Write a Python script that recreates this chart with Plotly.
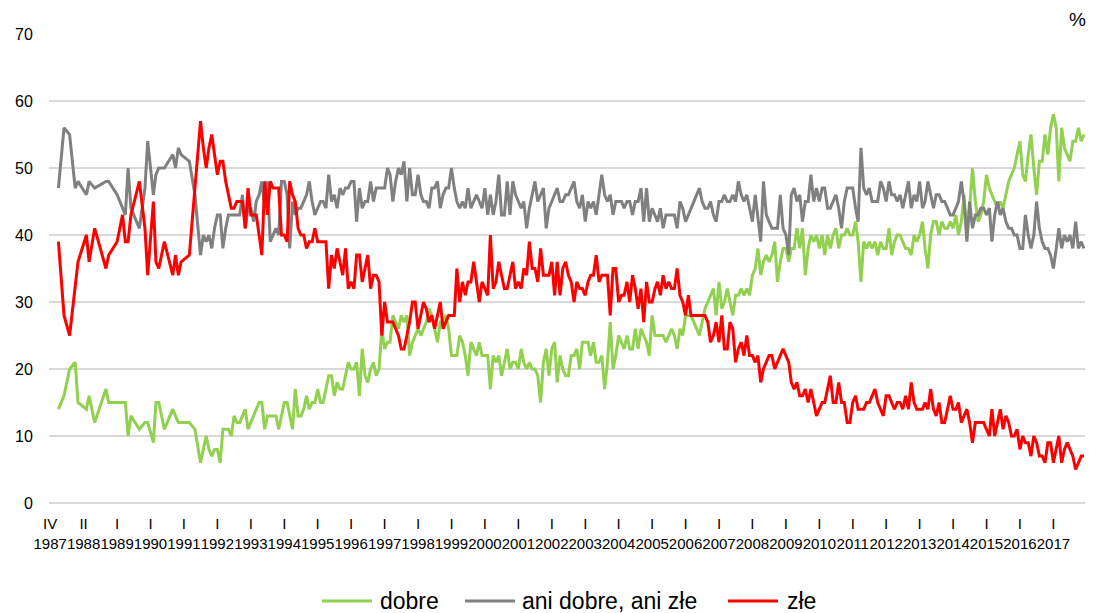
import pandas as pd
import plotly.graph_objects as go

# survey dates: irregular until mid-1991, then monthly
early_dates = ["1987-04-01", "1987-06-01", "1987-08-01", "1987-10-01", "1987-11-01",
               "1988-02-01", "1988-03-01", "1988-05-01", "1988-09-01", "1988-10-01",
               "1989-01-01", "1989-03-01", "1989-04-01", "1989-05-01", "1989-06-01",
               "1989-09-01", "1989-11-01", "1989-12-01", "1990-02-01", "1990-03-01",
               "1990-04-01", "1990-06-01", "1990-09-01", "1990-10-01", "1990-11-01",
               "1990-12-01", "1991-03-01", "1991-05-01"]
monthly_dates = [d.strftime("%Y-%m-%d") for d in pd.date_range("1991-07-01", "2017-12-01", freq="MS")]
dates = early_dates + monthly_dates

dobre_early = [14, 16, 20, 21, 15, 14, 16, 12, 17, 15, 15, 15, 15, 10, 13, 11, 12, 12, 9, 15,
               15, 11, 14, 13, 12, 12, 12, 11]
ani_early = [47, 56, 55, 47, 48, 46, 48, 47, 48, 48, 46, 44, 43, 50, 44, 41, 47, 54, 46, 49,
             50, 50, 52, 50, 53, 52, 51, 46]
zle_early = [39, 28, 25, 32, 36, 40, 36, 41, 35, 37, 39, 43, 39, 39, 43, 48, 41, 34, 45, 36,
             35, 39, 34, 37, 34, 36, 37, 47]

dobre_monthly = [
    6, 8, 10, 8, 7, 8,                          # 1991 VII-XII
    8, 6, 11, 11, 11, 10, 13, 12, 12, 13, 14, 11,  # 1992
    12, 13, 14, 15, 15, 11, 13, 13, 13, 13, 11, 13,  # 1993
    15, 15, 13, 11, 17, 13, 13, 14, 16, 14, 15, 15,  # 1994
    17, 15, 15, 17, 19, 19, 16, 18, 17, 17, 19, 21,  # 1995
    20, 20, 21, 16, 23, 19, 18, 20, 21, 19, 20, 26,  # 1996
    23, 24, 24, 28, 27, 26, 28, 27, 28, 22, 24, 25,  # 1997
    26, 25, 26, 27, 29, 28, 26, 24, 27, 27, 28, 26,  # 1998
    22, 22, 22, 25, 24, 22, 19, 24, 23, 22, 24, 22,  # 1999
    22, 22, 17, 22, 21, 22, 19, 21, 23, 20, 21, 21,  # 2000
    20, 23, 21, 20, 21, 20, 20, 19, 15, 21, 23, 19,  # 2001
    23, 24, 18, 22, 20, 19, 19, 22, 22, 23, 20, 24,  # 2002
    24, 24, 22, 24, 21, 21, 22, 17, 21, 27, 20, 22,  # 2003
    25, 24, 23, 25, 23, 23, 26, 23, 26, 25, 24, 22,  # 2004
    28, 25, 25, 25, 25, 24, 25, 26, 25, 23, 26, 25,  # 2005
    28, 28, 28, 27, 26, 25, 27, 29, 30, 31, 32, 28,  # 2006
    33, 29, 30, 32, 30, 28, 31, 31, 32, 31, 32, 31,  # 2007
    34, 35, 38, 34, 36, 37, 36, 37, 39, 33, 36, 38,  # 2008
    38, 36, 38, 38, 41, 38, 41, 34, 38, 40, 39, 40,  # 2009
    38, 40, 37, 40, 38, 40, 41, 38, 40, 40, 41, 40,  # 2010
    40, 42, 39, 33, 39, 38, 39, 38, 39, 37, 39, 38,  # 2011
    38, 41, 37, 39, 40, 40, 39, 38, 38, 37, 40, 39,  # 2012
    40, 42, 38, 35, 40, 42, 42, 40, 42, 41, 41, 42,  # 2013
    41, 43, 40, 42, 46, 40, 44, 50, 45, 42, 43, 45,  # 2014
    49, 47, 46, 45, 44, 45, 44, 46, 48, 49, 50, 52,  # 2015
    54, 49, 48, 52, 55, 50, 46, 51, 51, 55, 52, 56,  # 2016
    58, 56, 48, 56, 53, 52, 51, 54, 54, 56, 54, 55,  # 2017
]

ani_monthly = [
    37, 40, 39, 40, 38, 41,                      # 1991 VII-XII
    43, 43, 38, 41, 43, 43, 43, 43, 43, 46, 41, 44,  # 1992
    44, 42, 45, 46, 48, 44, 48, 39, 40, 41, 40, 48,  # 1993
    48, 46, 38, 45, 43, 44, 44, 45, 46, 48, 45, 43,  # 1994
    44, 45, 45, 44, 49, 45, 46, 44, 47, 46, 47, 47,  # 1995
    48, 48, 42, 47, 44, 45, 45, 48, 45, 47, 47, 47,  # 1996
    47, 50, 49, 45, 48, 50, 49, 51, 45, 50, 46, 46,  # 1997
    49, 46, 45, 45, 44, 47, 47, 48, 44, 46, 47, 47,  # 1998
    50, 47, 45, 44, 45, 44, 47, 44, 45, 46, 45, 44,  # 1999
    47, 43, 46, 43, 45, 49, 43, 43, 48, 43, 48, 46,  # 2000
    45, 44, 45, 41, 44, 46, 48, 45, 46, 47, 41, 44,  # 2001
    45, 46, 47, 45, 45, 46, 46, 47, 48, 45, 44, 46,  # 2002
    42, 45, 44, 45, 43, 46, 49, 46, 45, 46, 43, 45,  # 2003
    45, 45, 44, 45, 45, 43, 45, 45, 47, 42, 47, 42,  # 2004
    44, 43, 42, 44, 41, 43, 43, 43, 43, 41, 45, 44,  # 2005
    42, 43, 44, 45, 46, 47, 45, 44, 44, 45, 43, 42,  # 2006
    45, 45, 46, 45, 45, 46, 45, 48, 46, 45, 46, 44,  # 2007
    42, 46, 43, 39, 48, 43, 42, 41, 41, 41, 46, 41,  # 2008
    40, 37, 46, 47, 45, 46, 42, 45, 45, 49, 45, 47,  # 2009
    45, 47, 47, 44, 44, 45, 46, 44, 41, 45, 47, 47,  # 2010
    47, 44, 42, 53, 47, 46, 47, 45, 45, 45, 48, 47,  # 2011
    45, 48, 46, 46, 45, 46, 44, 46, 48, 44, 46, 45,  # 2012
    48, 44, 45, 48, 46, 44, 46, 46, 45, 45, 44, 43,  # 2013
    43, 44, 45, 48, 45, 39, 45, 41, 43, 43, 44, 44,  # 2014
    43, 44, 39, 43, 45, 43, 44, 42, 41, 41, 40, 40,  # 2015
    38, 38, 43, 40, 38, 40, 45, 41, 39, 38, 38, 37,  # 2016
    35, 38, 41, 38, 40, 39, 40, 38, 42, 38, 39, 38,  # 2017
]

zle_monthly = [
    57, 53, 50, 53, 55, 52,                      # 1991 VII-XII
    49, 51, 51, 48, 46, 44, 44, 45, 45, 45, 41, 47,  # 1992
    43, 43, 43, 40, 37, 48, 43, 48, 47, 47, 47, 40,  # 1993
    40, 39, 48, 46, 45, 41, 40, 40, 38, 39, 39, 41,  # 1994
    39, 39, 39, 39, 32, 37, 35, 38, 36, 34, 38, 32,  # 1995
    33, 32, 37, 37, 33, 35, 37, 32, 34, 34, 33, 25,  # 1996
    30, 27, 27, 27, 26, 25, 23, 23, 25, 27, 30, 30,  # 1997
    26, 28, 30, 29, 27, 28, 26, 28, 30, 26, 27, 28,  # 1998
    28, 28, 35, 30, 33, 31, 33, 33, 36, 33, 30, 33,  # 1999
    32, 31, 40, 32, 33, 36, 34, 32, 32, 34, 36, 32,  # 2000
    33, 32, 35, 34, 39, 35, 35, 33, 38, 34, 34, 34,  # 2001
    36, 31, 36, 31, 35, 36, 34, 33, 30, 33, 32, 32,  # 2002
    31, 33, 34, 34, 37, 33, 34, 34, 34, 28, 35, 35,  # 2003
    30, 31, 31, 33, 30, 34, 32, 29, 32, 27, 33, 30,  # 2004
    30, 32, 33, 31, 34, 32, 33, 32, 32, 35, 31, 30,  # 2005
    28, 31, 28, 28, 28, 28, 28, 28, 27, 24, 25, 27,  # 2006
    24, 28, 23, 23, 27, 26, 21, 23, 24, 22, 25, 22,  # 2007
    22, 21, 22, 18, 20, 21, 22, 22, 20, 21, 22, 23,  # 2008
    22, 21, 18, 17, 18, 16, 16, 17, 15, 17, 15, 13,  # 2009
    14, 15, 15, 17, 19, 15, 15, 18, 15, 15, 12, 12,  # 2010
    15, 16, 14, 14, 14, 15, 15, 16, 17, 15, 14, 13,  # 2011
    16, 16, 15, 14, 15, 15, 14, 16, 14, 18, 15, 14,  # 2012
    14, 14, 15, 14, 17, 14, 13, 15, 12, 12, 14, 16,  # 2013
    14, 14, 15, 12, 13, 14, 12, 9, 12, 12, 12, 12,   # 2014
    11, 10, 14, 10, 12, 14, 11, 13, 12, 10, 10, 11,  # 2015
    8, 10, 9, 9, 7, 10, 9, 7, 7, 6, 9, 9,            # 2016
    6, 8, 10, 6, 8, 9, 8, 7, 5, 6, 7, 7,             # 2017
]

dobre = dobre_early + dobre_monthly
ani = ani_early + ani_monthly
zle = zle_early + zle_monthly

# axis labels: first survey month of each year (roman) + year
years = list(range(1987, 2018))
tick_vals = [f"{y}-01-01" for y in years]
tick_text = ["IV<br>1987", "II<br>1988"] + [f"I<br>{y}" for y in years[2:]]

series = [('dobre', dobre, '#92d050'),
          ('ani dobre, ani złe', ani, '#808080'),
          ('złe', zle, '#ff0000')]

fig = go.Figure()
for name, values, color in series:
    fig.add_trace(go.Scatter(x=dates, y=values, mode='lines', name=name,
                             line=dict(color=color, width=3)))

fig.update_xaxes(type='date', range=['1986-12-19', '2017-12-12'],
                 tickvals=tick_vals, ticktext=tick_text, tickangle=0,
                 showgrid=False, zeroline=False, showline=False,
                 ticks='outside', ticklen=7, tickcolor='rgba(0,0,0,0)',
                 tickfont=dict(size=15, color='#000'))
fig.update_yaxes(range=[0, 70], dtick=10, showgrid=True, gridcolor='#d9d9d9', gridwidth=1.5,
                 zeroline=True, zerolinecolor='#d9d9d9', zerolinewidth=1.5, showline=False,
                 ticks='outside', ticklen=12, tickcolor='rgba(0,0,0,0)',
                 tickfont=dict(size=16, color='#000'))

fig.add_annotation(text='%', xref='paper', yref='paper', x=1.003, y=1.03, xanchor='right',
                   yanchor='middle', showarrow=False, font=dict(size=19, color='#000'))

# legend drawn by hand below the plot (longer key lines than plotly's own legend)
legend_keys = [(0.2635, 0.3118, 0.3176), (0.4015, 0.4498, 0.4546), (0.6554, 0.7037, 0.7104)]
for (name, _, color), (x0, x1, xt) in zip(series, legend_keys):
    fig.add_shape(type='line', xref='paper', yref='paper', x0=x0, x1=x1, y0=-0.209, y1=-0.209,
                  line=dict(color=color, width=3))
    fig.add_annotation(text=name, xref='paper', yref='paper', x=xt, y=-0.209, xanchor='left',
                       yanchor='middle', showarrow=False, font=dict(size=23, color='#000'))

fig.update_layout(width=1094, height=613,
                  margin=dict(l=49, r=9, t=34, b=110),
                  plot_bgcolor='white', paper_bgcolor='white',
                  font=dict(family='Liberation Sans, Arial, sans-serif', color='#000'),
                  showlegend=False, hovermode=False)

fig.write_html("out.html", config={'displayModeBar': False},
               post_script="document.body.style.margin='0px';")
